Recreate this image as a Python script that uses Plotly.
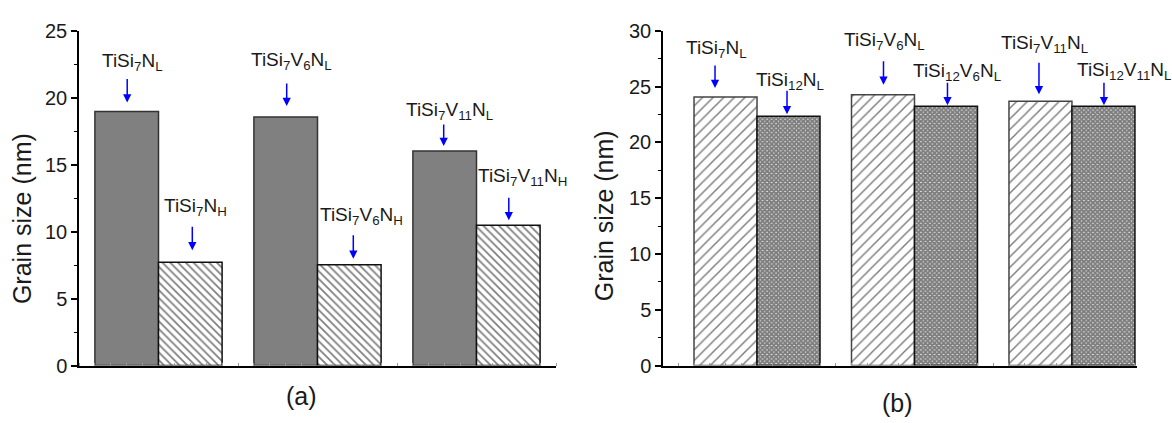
import plotly.graph_objects as go

# ---- data -------------------------------------------------------------
groups = [1, 2, 3]

# panel (a): low vs high nitrogen
a_low_labels = ["TiSi<sub>7</sub>N<sub>L</sub>",
                "TiSi<sub>7</sub>V<sub>6</sub>N<sub>L</sub>",
                "TiSi<sub>7</sub>V<sub>11</sub>N<sub>L</sub>"]
a_high_labels = ["TiSi<sub>7</sub>N<sub>H</sub>",
                 "TiSi<sub>7</sub>V<sub>6</sub>N<sub>H</sub>",
                 "TiSi<sub>7</sub>V<sub>11</sub>N<sub>H</sub>"]
a_low = [19.0, 18.6, 16.05]
a_high = [7.73, 7.54, 10.5]

# panel (b): Si7 vs Si12 at low nitrogen
b_si7_labels = ["TiSi<sub>7</sub>N<sub>L</sub>",
                "TiSi<sub>7</sub>V<sub>6</sub>N<sub>L</sub>",
                "TiSi<sub>7</sub>V<sub>11</sub>N<sub>L</sub>"]
b_si12_labels = ["TiSi<sub>12</sub>N<sub>L</sub>",
                 "TiSi<sub>12</sub>V<sub>6</sub>N<sub>L</sub>",
                 "TiSi<sub>12</sub>V<sub>11</sub>N<sub>L</sub>"]
b_si7 = [24.07, 24.27, 23.7]
b_si12 = [22.35, 23.25, 23.25]

y_ticks_a = [0, 5, 10, 15, 20, 25]
y_ticks_b = [0, 5, 10, 15, 20, 25, 30]

# ---- styling ----------------------------------------------------------
FONT = "Arial, Liberation Sans, sans-serif"
TXT = "#1a1a1a"
HALF = 0.2  # half of one bar's width in group units

# label layout per bar, in pixels:
# (text dx, text rise above bar top, arrow dx, arrow tail rise, arrow gap)
a_low_place = [(6, 44, 0.5, 34, 9), (6, 50, 1, 35, 11), (5, 34, -1, 28, 5)]
a_high_place = [(5, 49, 2, 37, 12), (12, 43, 4, 31, 6), (14, 42, 0.5, 29, 5)]
b_si7_place = [(-9, 42, -10.5, 33, 9), (2, 48, 0.5, 35, 10), (4, 51, -1.5, 40, 7)]
b_si12_place = [(1.5, 29, -1.5, 27, 2), (11, 28, 1.5, 25, 1), (21, 29, 0.5, 25, 1)]

fig = go.Figure()

fig.add_trace(go.Bar(x=groups, y=a_low, xaxis="x", yaxis="y",
                     marker=dict(color="#808080",
                                 line=dict(color="#333333", width=1.5))))
fig.add_trace(go.Bar(x=groups, y=a_high, xaxis="x", yaxis="y",
                     marker=dict(color="white",
                                 pattern=dict(shape="\\", size=5.5, solidity=0.32,
                                              fgcolor="black", bgcolor="white"),
                                 line=dict(color="#111", width=1.5))))
fig.add_trace(go.Bar(x=groups, y=b_si7, xaxis="x2", yaxis="y2",
                     marker=dict(color="white",
                                 pattern=dict(shape="/", size=7.5, solidity=0.2,
                                              fgcolor="black", bgcolor="white"),
                                 line=dict(color="#444", width=1.5))))
fig.add_trace(go.Bar(x=groups, y=b_si12, xaxis="x2", yaxis="y2",
                     marker=dict(color="white",
                                 pattern=dict(shape="x", size=3.2, solidity=0.88,
                                              fgcolor="black", bgcolor="white"),
                                 line=dict(color="#111", width=1.5))))

annotations = []


def label_bars(xref, yref, values, labels, places, side):
    for g, v, lab, (tdx, trise, adx, arise, gap) in zip(groups, values, labels, places):
        xc = g + side * HALF
        annotations.append(dict(
            x=xc, y=v, xref=xref, yref=yref, text=lab, showarrow=False,
            xanchor="center", yanchor="bottom", xshift=tdx, yshift=trise - 8,
            font=dict(family=FONT, size=19, color=TXT)))
        annotations.append(dict(
            x=xc, y=v, xref=xref, yref=yref, text="", showarrow=True,
            xshift=adx, ax=0, ay=-(arise - gap), yshift=gap,
            arrowhead=2, arrowsize=1.1, arrowwidth=1.5, arrowcolor="#0000ff",
            standoff=0))


label_bars("x", "y", a_low, a_low_labels, a_low_place, -1)
label_bars("x", "y", a_high, a_high_labels, a_high_place, 1)
label_bars("x2", "y2", b_si7, b_si7_labels, b_si7_place, -1)
label_bars("x2", "y2", b_si12, b_si12_labels, b_si12_place, 1)

# axis titles and panel tags
for xp, yp in [(22 / 1172, 1 - 219.5 / 423), (604 / 1172, 1 - 216.5 / 423)]:
    annotations.append(dict(x=xp, y=yp, xref="paper", yref="paper",
                            text="Grain size (nm)", textangle=-90, showarrow=False,
                            xanchor="center", yanchor="middle",
                            font=dict(family=FONT, size=25, color=TXT)))
for tag, xp, yp in [("(a)", 301 / 1172, 1 - 406 / 423), ("(b)", 897 / 1172, 1 - 414 / 423)]:
    annotations.append(dict(x=xp, y=yp, xref="paper", yref="paper", text=tag,
                            showarrow=False, xanchor="center", yanchor="middle",
                            font=dict(family=FONT, size=25, color=TXT)))

xaxis_style = dict(showline=True, linecolor="black", linewidth=1.5,
                   showgrid=False, zeroline=False, showticklabels=False, ticks="",
                   minor=dict(ticks="inside", dtick=0.1, tick0=0.5, ticklen=3,
                              tickcolor="#999", tickwidth=1))
yaxis_style = dict(showline=True, linecolor="black", linewidth=1.5,
                   showgrid=False, zeroline=False, ticks="outside", ticklen=6,
                   tickwidth=1.5, tickcolor="black",
                   tickfont=dict(family=FONT, size=20, color=TXT),
                   minor=dict(ticks="outside", ticklen=3, tickwidth=1.2,
                              tickcolor="black", dtick=2.5))

fig.update_layout(
    width=1172, height=423,
    margin=dict(l=0, r=0, t=0, b=0),
    paper_bgcolor="white", plot_bgcolor="white",
    showlegend=False, barmode="group", bargap=0.2, bargroupgap=0,
    xaxis=dict(domain=[79 / 1172, 556 / 1172], range=[0.5, 3.5],
               anchor="y", **xaxis_style),
    yaxis=dict(domain=[49 / 423, 401.5 / 423], range=[0, 25], anchor="x",
               tickvals=y_ticks_a, **yaxis_style),
    xaxis2=dict(domain=[663 / 1172, 1137 / 1172], range=[0.403, 3.413],
                anchor="y2", **xaxis_style),
    yaxis2=dict(domain=[49 / 423, 402 / 423], range=[0, 30], anchor="x2",
                tickvals=y_ticks_b, **yaxis_style),
    annotations=annotations,
)

fig.write_html("out.html")
